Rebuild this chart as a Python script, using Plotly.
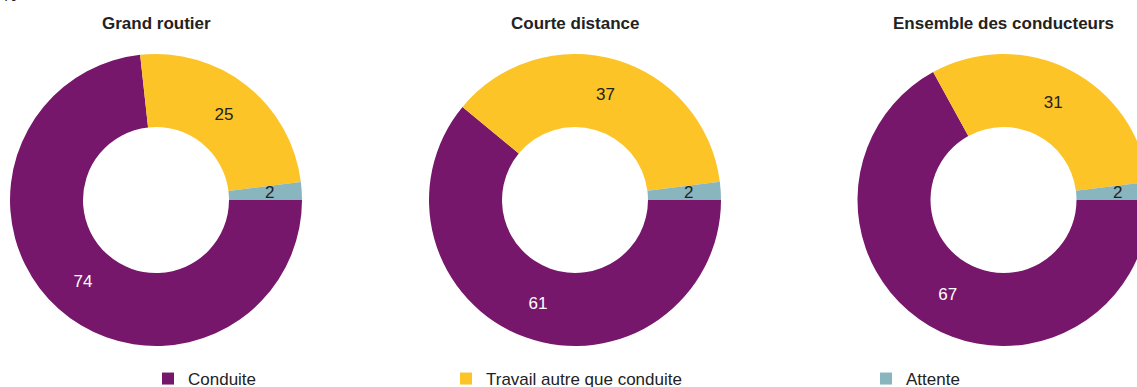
import math
import plotly.graph_objects as go

# Share of working time by activity, in %
categories = ["Conduite", "Travail autre que conduite", "Attente"]
groups = ["Grand routier", "Courte distance", "Ensemble des conducteurs"]
grand_routier = [74, 25, 2]
courte_distance = [61, 37, 2]
ensemble = [67, 31, 2]
series = [grand_routier, courte_distance, ensemble]

colors = ["#76176B", "#FCC427", "#89B5BE"]
text_colors = ["#FFFFFF", "#222222", "#222222"]
FONT = "Liberation Sans, Arial, Helvetica, sans-serif"

W, H = 1160, 387
HOLE = 0.5
# pixel boxes (left, right, top, bottom) of each donut
boxes = [(10, 302, 54, 346), (429, 721, 54, 346), (857.5, 1149.5, 54, 346)]

fig = go.Figure()
for name, vals, (l, r, t, b) in zip(groups, series, boxes):
    fig.add_trace(go.Pie(
        labels=categories,
        values=vals,
        name=name,
        hole=HOLE,
        sort=False,
        direction="clockwise",
        rotation=90,
        marker=dict(colors=colors, line=dict(width=0)),
        texttemplate=["%{value}", "%{value}", ""],
        textposition="inside",
        insidetextorientation="horizontal",
        insidetextfont=dict(family=FONT, size=17, color=text_colors),
        showlegend=False,
        domain=dict(x=[l / W, r / W], y=[(H - b) / H, (H - t) / H]),
    ))
    fig.add_annotation(
        text=f"<b>{name}</b>", x=(l + r) / 2 / W, y=1 - 23 / H,
        xref="paper", yref="paper", xanchor="center", yanchor="middle",
        showarrow=False, font=dict(family=FONT, size=17, color="#222222"),
    )
    # label of the thin last slice, set in the ring at the slice's mid-angle
    cx, cy, rad = (l + r) / 2, (t + b) / 2, (r - l) / 2
    theta = math.radians(vals[-1] / sum(vals) * 360 / 2)
    rm = rad * 0.78
    fig.add_annotation(
        text=str(vals[-1]),
        x=(cx + rm * math.cos(theta)) / W,
        y=(H - (cy - rm * math.sin(theta))) / H,
        xref="paper", yref="paper", xanchor="center", yanchor="middle",
        showarrow=False, font=dict(family=FONT, size=17, color=text_colors[-1]),
    )

# legend entries, one legend per category
legend_x = [148, 446, 866]
legend_names = ["legend", "legend2", "legend3"]
for cat, col, lg in zip(categories, colors, legend_names):
    fig.add_trace(go.Scatter(
        x=[None], y=[None], mode="markers", name=cat, legend=lg,
        marker=dict(symbol="square", size=12, color=col, line=dict(width=0)),
        showlegend=True, hoverinfo="skip",
    ))

legend_common = dict(
    orientation="h", xanchor="left", yanchor="middle", y=1 - 379 / H,
    bgcolor="rgba(0,0,0,0)", borderwidth=0,
    font=dict(family=FONT, size=17, color="#222222"),
)

fig.add_annotation(
    text="%", x=0, y=1 - 7 / H, xref="paper", yref="paper",
    xanchor="left", yanchor="bottom", showarrow=False,
    font=dict(family=FONT, size=17, color="#222222"),
)

fig.update_layout(
    width=W, height=H, autosize=False,
    margin=dict(l=0, r=0, t=0, b=0, autoexpand=False),
    paper_bgcolor="white", plot_bgcolor="white",
    xaxis=dict(visible=False), yaxis=dict(visible=False),
    legend=dict(x=legend_x[0] / W, **legend_common),
    legend2=dict(x=legend_x[1] / W, **legend_common),
    legend3=dict(x=legend_x[2] / W, **legend_common),
    uniformtext=dict(minsize=17, mode="show"),
)

fig.write_html(
    "out.html",
    post_script="document.documentElement.style.overflow='hidden';"
                "document.body.style.overflow='hidden';"
                "document.body.style.margin='0';",
)
